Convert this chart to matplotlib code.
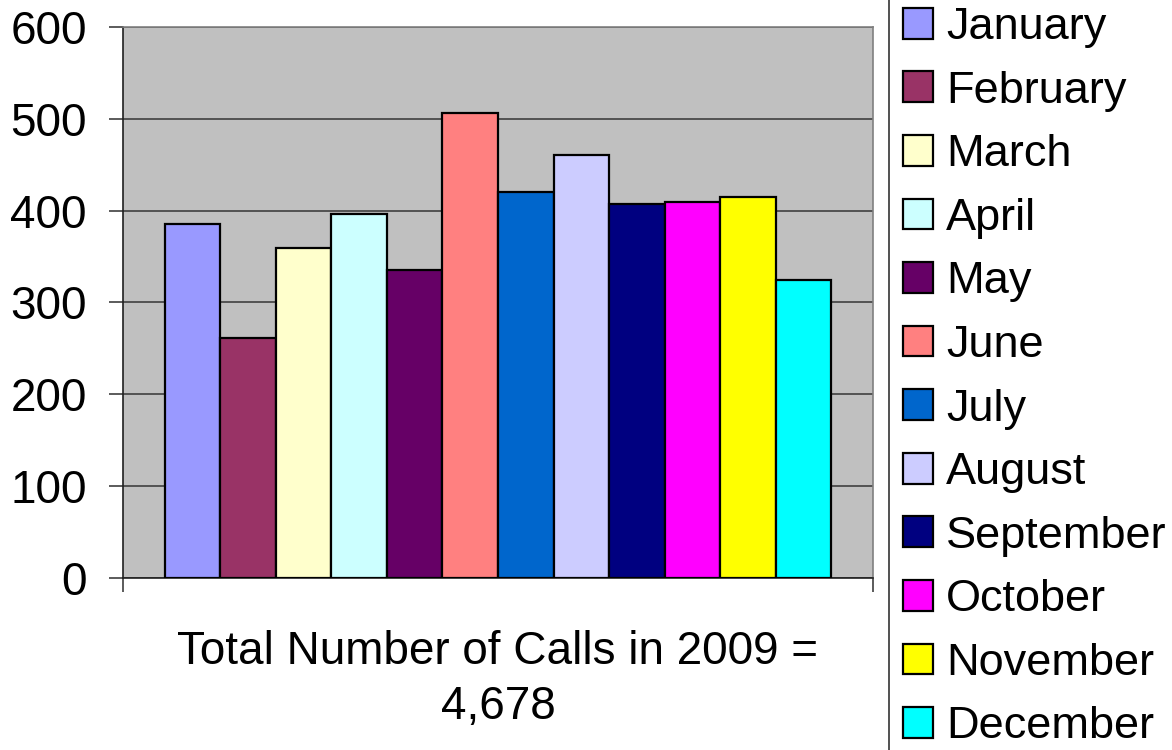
import numpy as np
import matplotlib.pyplot as plt

months = ['January', 'February', 'March', 'April', 'May', 'June', 'July',
          'August', 'September', 'October', 'November', 'December']
calls = [385, 261, 359, 396, 335, 506, 420, 461, 407, 409, 415, 324]
colors = ['#9999FF', '#993366', '#FFFFCC', '#CCFFFF', '#660066', '#FF8080',
          '#0066CC', '#CCCCFF', '#000080', '#FF00FF', '#FFFF00', '#00FFFF']
yticks = [0, 100, 200, 300, 400, 500, 600]
xlabel = 'Total Number of Calls in 2009 =\n4,678'

plt.rcParams['font.family'] = ['Liberation Sans', 'DejaVu Sans']
fs = 33

fig = plt.figure(figsize=(11.72, 7.5), dpi=100)
ax = fig.add_axes([123/1172, 172/750, 750/1172, 551/750])
ax.set_facecolor('#C0C0C0')

# excel style: 150% gap width, one category
w = 1 / (len(calls) + 1.5)
xs = (np.arange(len(calls)) + 0.75) * w
for x, v, c, m in zip(xs, calls, colors, months):
    ax.bar(x, v, width=w, align='edge', color=c, edgecolor='black',
           linewidth=1.6, label=m, zorder=3)

ax.set_xlim(0, 1)
ax.set_ylim(0, 600)
ax.set_yticks(yticks)
ax.yaxis.grid(True, color='#404040', linewidth=1.2, zorder=1)
ax.set_xticks([0, 1])
ax.set_xticklabels([])
ax.tick_params(axis='y', labelsize=fs, length=10, width=1.2, pad=16,
               color='#404040')
ax.tick_params(axis='x', length=10, width=1.2, direction='out', color='#404040')
for s in ['top', 'right']:
    ax.spines[s].set_color('#808080')
    ax.spines[s].set_linewidth(1.2)
for s in ['left', 'bottom']:
    ax.spines[s].set_color('#202020')
    ax.spines[s].set_linewidth(1.2)

ax.set_xlabel(xlabel, fontsize=fs, labelpad=24, linespacing=1.32)

leg = fig.legend(loc='center left', bbox_to_anchor=(889/1172, 0.497),
                 fontsize=32.5, handlelength=0.67, handleheight=0.67,
                 handletextpad=0.3, labelspacing=0.5, borderpad=0.3,
                 borderaxespad=0, frameon=True, fancybox=False)
leg.get_frame().set_edgecolor('black')
leg.get_frame().set_linewidth(1.2)

fig.savefig('out.png', dpi=100)
